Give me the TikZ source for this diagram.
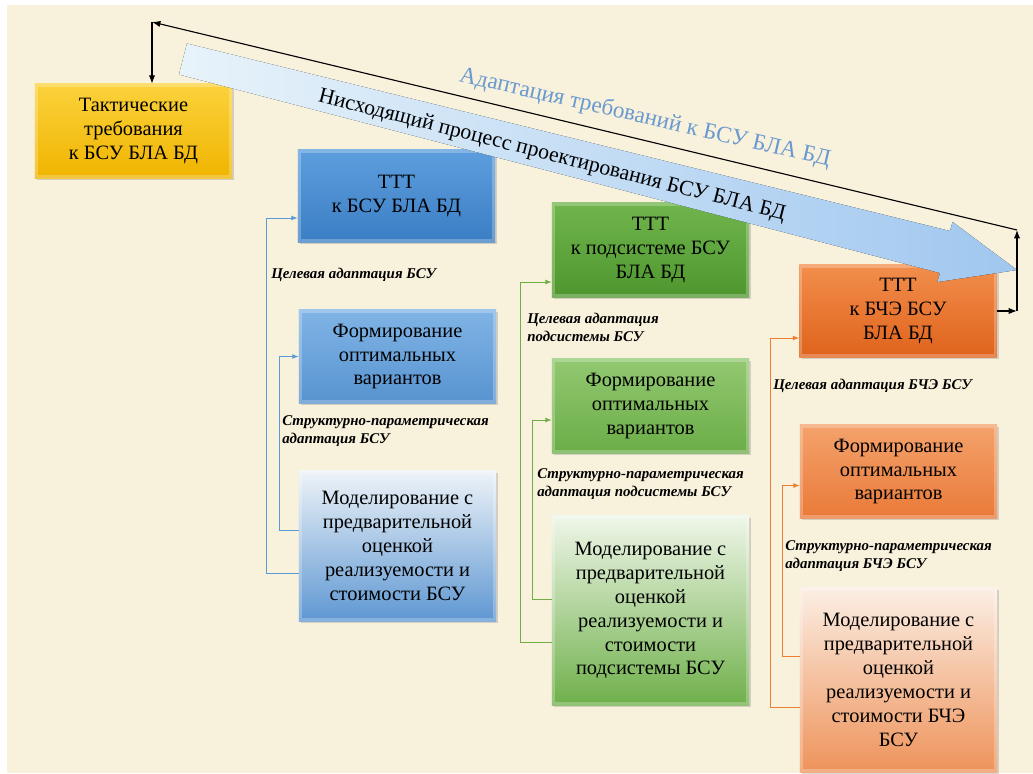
\documentclass[tikz,border=0pt]{standalone}
\usepackage{fontspec}
\setmainfont{Liberation Serif}
\usetikzlibrary{calc,shadows,arrows.meta}

\definecolor{cream}{HTML}{F8F1DC}
\definecolor{tactT}{HTML}{FBD23C}
\definecolor{tactB}{HTML}{F0B400}
\definecolor{bluA}{HTML}{5C9EDD}
\definecolor{bluB}{HTML}{3C7EC4}
\definecolor{bluC}{HTML}{80B4E6}
\definecolor{bluD}{HTML}{5893D0}
\definecolor{bluE}{HTML}{EEF3F8}
\definecolor{bluF}{HTML}{5E97D2}
\definecolor{grnA}{HTML}{70B54C}
\definecolor{grnB}{HTML}{4F962F}
\definecolor{grnC}{HTML}{92C871}
\definecolor{grnD}{HTML}{6BAD47}
\definecolor{grnE}{HTML}{EFF6E9}
\definecolor{grnF}{HTML}{6FB04A}
\definecolor{ornA}{HTML}{F28E4C}
\definecolor{ornB}{HTML}{DF631C}
\definecolor{ornC}{HTML}{F4A26C}
\definecolor{ornD}{HTML}{E97A38}
\definecolor{ornE}{HTML}{FBEEE4}
\definecolor{ornF}{HTML}{EE935A}
\definecolor{bluLink}{HTML}{5B9BD5}
\definecolor{grnLink}{HTML}{70AD47}
\definecolor{ornLink}{HTML}{ED7D31}
\definecolor{bandL}{HTML}{E8F3FA}
\definecolor{bandR}{HTML}{A0C7EF}
\definecolor{adaptText}{HTML}{6A99D0}

\tikzset{
	box/.style={minimum width=4.925cm, inner sep=2pt, align=center,
		font=\fontsize{14.5}{17}\selectfont,
		drop shadow={opacity=0.3, shadow xshift=1.5pt, shadow yshift=-1.5pt},
		path picture={\draw[white, opacity=0.25, line width=4pt]
			(path picture bounding box.south west) rectangle (path picture bounding box.north east);}},
	lbl/.style={anchor=west, align=left, inner sep=0pt,
		font=\fontsize{10.6}{12.8}\selectfont\bfseries\itshape},
	link/.style={line width=0.7pt, -{Latex[length=4.5pt,width=3.5pt]}},
	fb/.style={line width=0.8pt, -{Latex[length=6pt,width=4.5pt]}},
}

\begin{document}
\begin{tikzpicture}[x=0.025cm, y=-0.025cm]
	\useasboundingbox (0,0) rectangle (1033,774);
	\fill[white] (0,0) rectangle (1033,774);
	\fill[cream] (7,5) rectangle (1033,773);
	
	%tactical requirements
	\node[box, minimum height=2.35cm, top color=tactT, bottom color=tactB] (tact) at (133.5,131) {Тактические\\требования\\к БСУ БЛА БД};
	
	%column 1
	\node[box, minimum height=2.3cm, top color=bluA, bottom color=bluB] (ttt1) at (396.5,196) {ТТТ\\к БСУ БЛА БД};
	\node[box, minimum height=2.325cm, top color=bluC, bottom color=bluD] (form1) at (397.5,356.5) {Формирование\\оптимальных\\вариантов};
	\node[box, minimum height=3.75cm, top color=bluE, bottom color=bluF] (mod1) at (397.5,546) {Моделирование с\\предварительной\\оценкой\\реализуемости и\\стоимости БСУ};
	\draw[link, bluLink] ($(mod1.west)+(0,27)$) -- ++(-32,0) |- ($(ttt1.west)+(0,22)$);
	\draw[link, bluLink] ($(mod1.west)+(0,-16)$) -- ++(-19,0) |- (form1.west);
	\node[lbl] (aim1) at (271,275) {Целевая адаптация БСУ};
	\node[lbl] (str1) at (282,431) {Структурно-параметрическая\\адаптация БСУ};
	
	%column 2
	\node[box, minimum height=2.35cm, top color=grnA, bottom color=grnB] (ttt2) at (650.5,250) {ТТТ\\к подсистеме БСУ\\БЛА БД};
	\node[box, minimum height=2.35cm, top color=grnC, bottom color=grnD] (form2) at (650.5,406) {Формирование\\оптимальных\\вариантов};
	\node[box, minimum height=4.725cm, top color=grnE, bottom color=grnF] (mod2) at (650.5,610.5) {Моделирование с\\предварительной\\оценкой\\реализуемости и\\стоимости\\подсистемы БСУ};
	\draw[link, grnLink] ($(mod2.west)+(0,31.5)$) -- ++(-31,0) |- ($(ttt2.west)+(0,32)$);
	\draw[link, grnLink] ($(mod2.west)+(0,-11.5)$) -- ++(-19,0) |- ($(form2.west)+(0,14)$);
	\node[lbl] (aim2) at (527,327.5) {Целевая адаптация\\подсистемы БСУ};
	\node[lbl] (str2) at (537,484.5) {Структурно-параметрическая\\адаптация подсистемы БСУ};
	
	%column 3
	\node[box, minimum height=2.3cm, top color=ornA, bottom color=ornB] (ttt3) at (898,311) {ТТТ\\к БЧЭ БСУ\\БЛА БД};
	\node[box, minimum height=2.325cm, top color=ornC, bottom color=ornD] (form3) at (898.5,471.5) {Формирование\\оптимальных\\вариантов};
	\node[box, minimum height=4.6cm, top color=ornE, bottom color=ornF] (mod3) at (898.5,680) {Моделирование с\\предварительной\\оценкой\\реализуемости и\\стоимости БЧЭ\\БСУ};
	\draw[link, ornLink] ($(mod3.west)+(0,27)$) -- ++(-29,0) |- ($(ttt3.west)+(0,27)$);
	\draw[link, ornLink] ($(mod3.west)+(0,-24)$) -- ++(-17,0) |- ($(form3.west)+(0,14)$);
	\node[lbl] (aim3) at (773,386) {Целевая адаптация БЧЭ БСУ};
	\node[lbl] (str3) at (785,556.5) {Структурно-параметрическая\\адаптация БЧЭ БСУ};
	
	%design process arrow
	\fill[left color=bandL, right color=bandR] (187,43.5) -- (950,231) -- (952.6,222) -- (1017,270) -- (937.4,282) -- (940,273) -- (179,74.5) -- cycle;
	\node[rotate=-14.3, font=\fontsize{15.5}{18}\selectfont] (down) at (552,156) {Нисходящий процесс проектирования БСУ БЛА БД};
	\node[rotate=-12.9, adaptText, font=\fontsize{16.5}{18}\selectfont] (adapt) at (645,118) {Адаптация требований к БСУ БЛА БД};
	
	%feedback loop
	\coordinate (fbRight) at (1017,230);
	\coordinate (fbTop) at (152,22);
	\draw[fb] (ttt3.east) -- (fbRight |- ttt3.east);
	\draw[fb] (fbRight |- ttt3.east) -- (fbRight);
	\draw[fb] (fbRight) -- (fbTop);
	\draw[fb] (fbTop) -- (fbTop |- tact.north);
\end{tikzpicture}
\end{document}
